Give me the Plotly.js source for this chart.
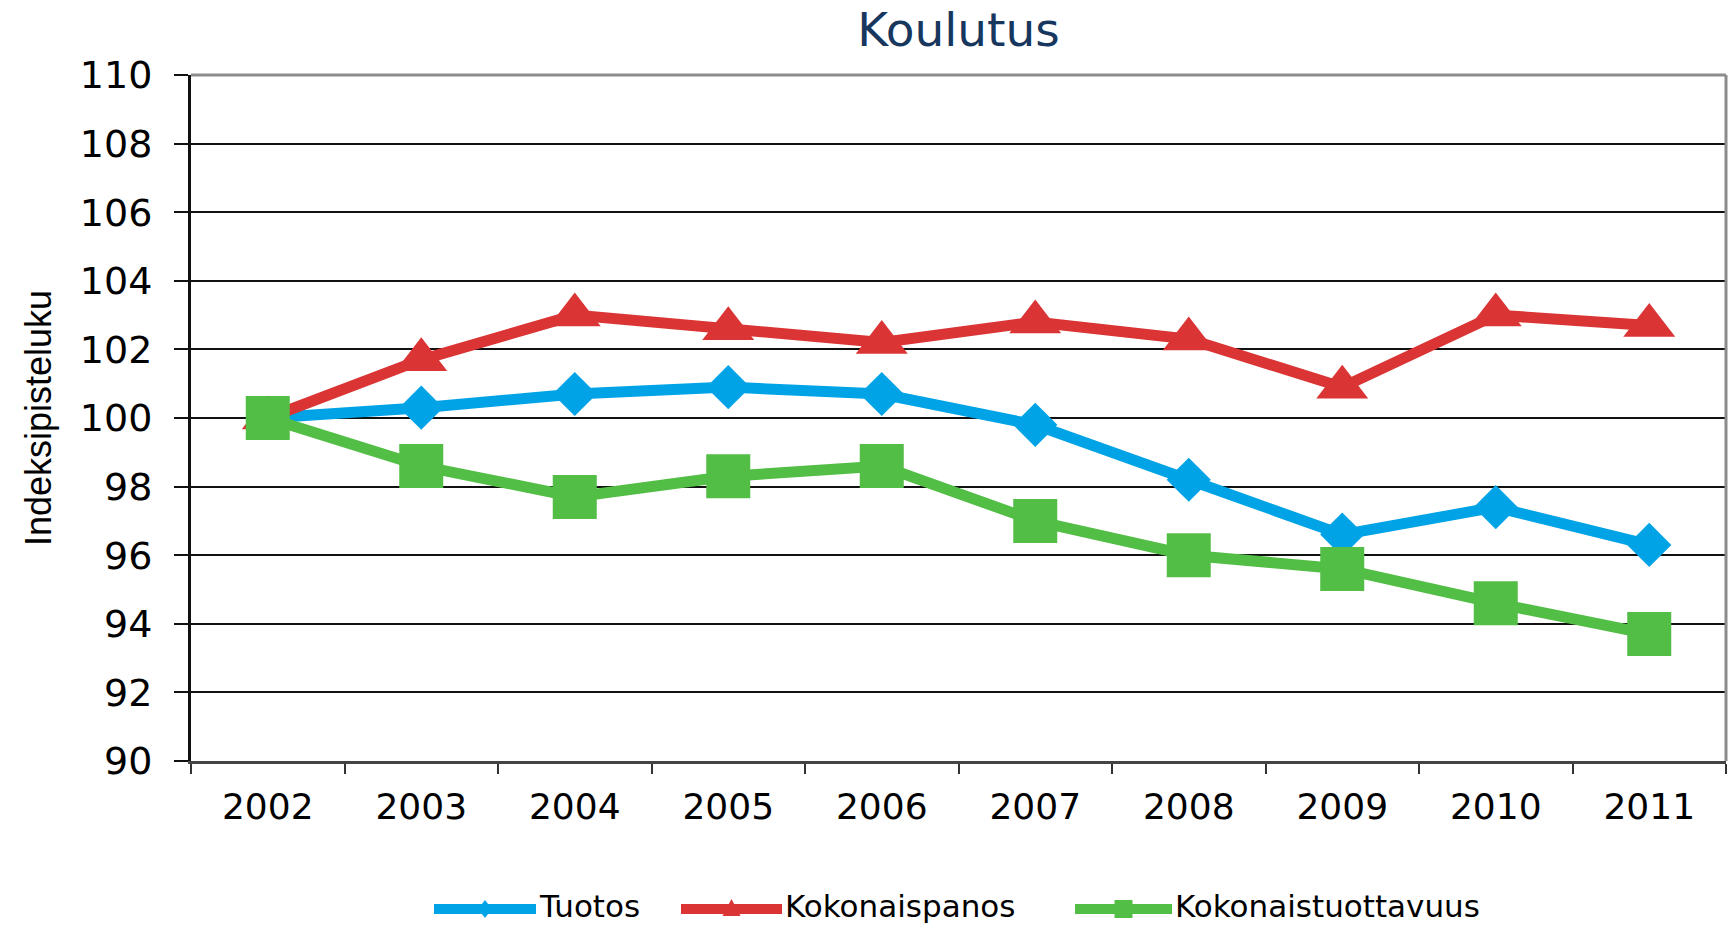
<!DOCTYPE html>
<html>
<head>
<meta charset="utf-8">
<script src="https://cdn.plot.ly/plotly-3.0.1.min.js"></script>
<style>html,body{margin:0;padding:0;background:#fff;}#chart{width:1735px;height:929px;}</style>
</head>
<body>
<div id="chart"></div>
<script>
// ---- data ----
const years = ['2002','2003','2004','2005','2006','2007','2008','2009','2010','2011'];
const tuotos = [100, 100.3, 100.7, 100.9, 100.7, 99.8, 98.2, 96.6, 97.4, 96.3];
const kokonaispanos = [100, 101.7, 103.0, 102.6, 102.2, 102.8, 102.3, 100.9, 103.0, 102.7];
const kokonaistuottavuus = [100, 98.6, 97.7, 98.3, 98.6, 97.0, 96.0, 95.6, 94.6, 93.7];
const seriesNames = ['Tuotos', 'Kokonaispanos', 'Kokonaistuottavuus'];
const yTickVals = [90, 92, 94, 96, 98, 100, 102, 104, 106, 108, 110];
const chartTitle = 'Koulutus';
const yTitle = 'Indeksipisteluku';

// ---- styles ----
const colors = ['#00a3e6', '#da3434', '#52be45'];
const symbols = ['diamond', 'triangle-up', 'square'];
const sizes = [34, 45, 44];
const values = [tuotos, kokonaispanos, kokonaistuottavuus];

const traces = values.map((v, i) => ({
  type: 'scatter', mode: 'lines+markers',
  x: years, y: v, name: seriesNames[i],
  line: {color: colors[i], width: 11},
  marker: {symbol: symbols[i], size: sizes[i], color: colors[i], line: {width: 0}},
  showlegend: false, cliponaxis: false
}));

// custom legend (decoration)
const W = 1735, H = 929, ml = 191, mr = 9, mt = 75, mb = 168;
const pw = W - ml - mr, ph = H - mt - mb;
const px2x = p => (p - ml) / pw;
const py2y = p => (H - mb - p) / ph;
const legY = 906;
const legLines = [[434, 536], [681, 782], [1075, 1172]];
const shapes = [];
const annotations = [];
const markerPaths = [
  'M0,9L7,0L0,-9L-7,0Z',
  'M-9,-7L9,-7L0,10Z',
  'M-9,-9L9,-9L9,9L-9,9Z'
];
legLines.forEach((l, i) => {
  shapes.push({type: 'line', xref: 'paper', yref: 'paper', x0: px2x(l[0]), x1: px2x(l[1]), y0: py2y(legY + 3), y1: py2y(legY + 3), line: {color: colors[i], width: 10}});
  const cx = px2x((l[0] + l[1]) / 2);
  shapes.push({type: 'path', xref: 'paper', yref: 'paper', xsizemode: 'pixel', ysizemode: 'pixel', xanchor: cx, yanchor: py2y(legY + 3), path: markerPaths[i], fillcolor: colors[i], line: {width: 0}});
  annotations.push({xref: 'paper', yref: 'paper', x: px2x(l[1] + 2), y: py2y(legY), xanchor: 'left', yanchor: 'middle', showarrow: false, borderpad: 0, text: seriesNames[i], font: {family: 'DejaVu Sans', size: 31, color: '#000'}});
});
// frame top/right
shapes.push({type: 'line', xref: 'paper', yref: 'paper', x0: 0, x1: 1, y0: 1, y1: 1, line: {color: '#8c8c8c', width: 3}});
shapes.push({type: 'line', xref: 'paper', yref: 'paper', x0: 1, x1: 1, y0: 0, y1: 1, line: {color: '#8c8c8c', width: 3}});

const layout = {
  width: W, height: H,
  margin: {l: ml, r: mr, t: mt, b: mb},
  paper_bgcolor: '#fff', plot_bgcolor: '#fff',
  font: {family: 'Liberation Sans, Arial, sans-serif', color: '#000'},
  title: {text: chartTitle, font: {family: 'DejaVu Sans, Verdana', size: 47, color: '#17375e'}, xref: 'paper', x: 0.5, xanchor: 'center', y: 1 - 30 / H, yanchor: 'middle'},
  xaxis: {
    type: 'category', range: [-0.5, 9.5], tickson: 'boundaries',
    ticks: 'outside', ticklen: 10, tickwidth: 2, tickcolor: '#333',
    showline: true, linecolor: '#444', linewidth: 3,
    showgrid: false, zeroline: false,
    tickfont: {size: 36, family: 'DejaVu Sans'}, ticklabelstandoff: 12,
    fixedrange: true
  },
  yaxis: {
    range: [90, 110], tickvals: yTickVals, ticktext: yTickVals.map(String),
    ticks: 'outside', ticklen: 14, tickwidth: 2, tickcolor: '#111',
    showline: true, linecolor: '#111', linewidth: 3,
    showgrid: true, gridcolor: '#111', gridwidth: 2, zeroline: false,
    tickfont: {size: 38, family: 'DejaVu Sans'}, ticklabelstandoff: 14,
    title: {text: yTitle, font: {size: 36, family: 'Liberation Sans, Arial'}, standoff: 18},
    fixedrange: true
  },
  shapes: shapes,
  annotations: annotations,
  showlegend: false
};

Plotly.newPlot('chart', traces, layout, {displayModeBar: false, staticPlot: true});
</script>
</body>
</html>
